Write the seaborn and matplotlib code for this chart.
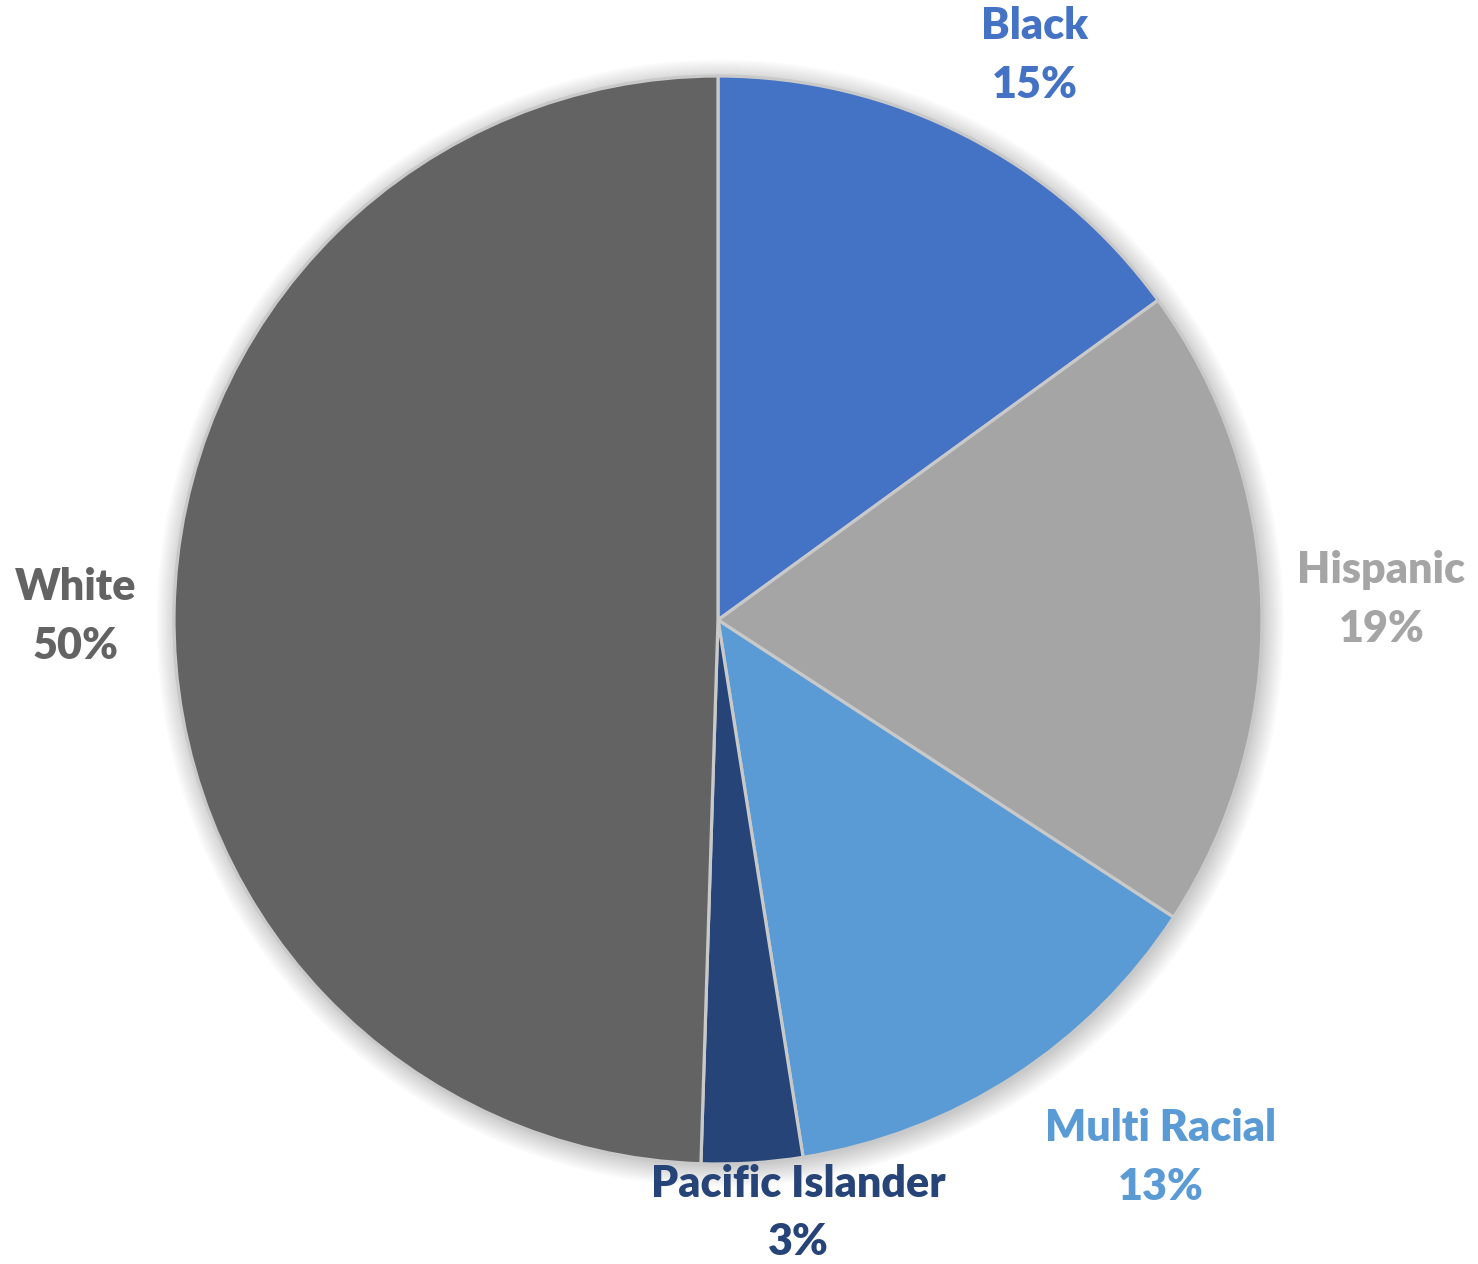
import numpy as np
import matplotlib
matplotlib.use("Agg")
import matplotlib.pyplot as plt
import seaborn as sns

sns.set_theme(style="white")
plt.rcParams['font.family'] = ['Lato', 'DejaVu Sans']

categories = ["Black", "Hispanic", "Multi Racial", "Pacific Islander", "White"]
shares = [15.0, 19.2, 13.3, 3.0, 49.5]
pct_labels = ["15%", "19%", "13%", "3%", "50%"]
colors = ["#4472C4", "#A5A5A5", "#5B9BD5", "#264478", "#636363"]

# label placement (radius multiple, clockwise angle tweak in degrees)
label_r = [1.19, 1.22, 1.28, 1.10, 1.18]
label_dang = [2.3, -0.3, -6.5, -4.1, -0.6]

W, H, dpi = 1478, 1264, 100
cx, cy, R = 718, 620, 544
fig = plt.figure(figsize=(W / dpi, H / dpi), dpi=dpi)
ax = fig.add_axes([0, 0, 1, 1])

# soft shadow
for i in range(10):
    circ = plt.Circle((0.004, -0.006), 1.0 + 0.004 * i, color="black",
                      alpha=0.018, lw=0, zorder=0)
    ax.add_patch(circ)

wedges, _ = ax.pie(shares, colors=colors, startangle=90, counterclock=False,
                   radius=1.0, frame=True,
                   wedgeprops=dict(edgecolor="#C9C9C9", linewidth=2.3))
ax.set_xlim(-cx / R, (W - cx) / R)
ax.set_ylim(-(H - cy) / R, cy / R)
ax.set_aspect("auto")
ax.axis("off")

for w, cat, pl, col, r, da in zip(wedges, categories, pct_labels, colors, label_r, label_dang):
    mid = np.deg2rad((w.theta1 + w.theta2) / 2 - da)
    x, y = r * np.cos(mid), r * np.sin(mid)
    ax.text(x, y, f"{cat}\n{pl}", ha="center", va="center", color=col,
            fontsize=31, fontweight="heavy", linespacing=1.57)

fig.savefig("out.png", dpi=dpi)
